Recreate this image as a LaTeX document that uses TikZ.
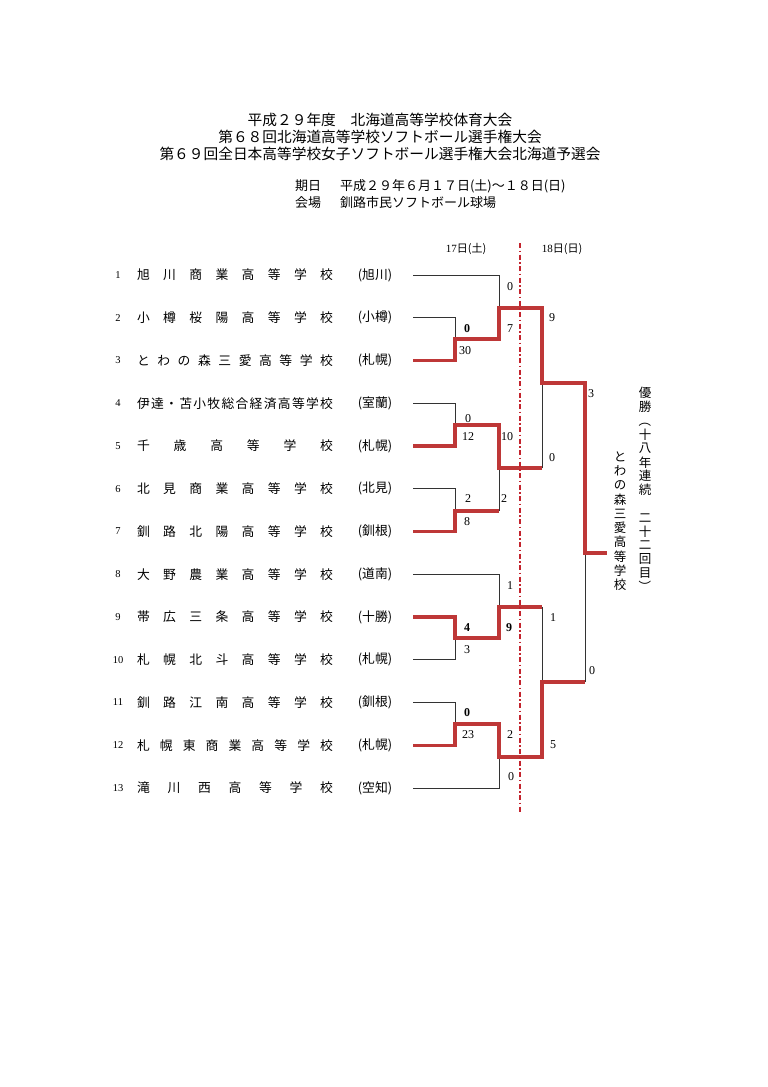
\documentclass[tikz,border=0pt]{standalone}
\usepackage{fontspec}
\setmainfont{Liberation Serif}
\newfontfamily\jp{Noto Sans CJK JP}
\definecolor{bred}{RGB}{190,55,55}
\definecolor{dred}{RGB}{195,35,45}
\newcommand\hf{\hfill}
\newcommand\team[3]{%
  \pgfmathsetmacro\tmY{275+(#1-1)*42.75}%
  \node[num] (num#1) at (118,\tmY) {#1};
  \node[tname] (name#1) at (137,\tmY) {\makebox[196pt][s]{#2}};
  \node[pref] (pref#1) at (375,\tmY) {(#3)};
  \coordinate (L#1) at (413,\tmY);
}
\begin{document}
\begin{tikzpicture}[x=1pt,y=-1pt,
  every node/.style={inner sep=0pt, outer sep=0pt},
  lose/.style={draw=black!80, line width=0.9pt},
  win/.style={draw=bred, line width=3.2pt},
  ttl/.style={font=\jp\fontsize{14.7}{15}\selectfont},
  info/.style={font=\jp\fontsize{13}{14}\selectfont, anchor=west},
  num/.style={font=\fontsize{10.5}{11}\selectfont},
  tname/.style={font=\jp\fontsize{12.8}{13}\selectfont, anchor=west},
  pref/.style={font=\jp\fontsize{12.8}{13}\selectfont},
  day/.style={font=\fontsize{11}{12}\selectfont},
  score/.style={font=\fontsize{12}{13}\selectfont},
  bscore/.style={font=\bfseries\fontsize{12}{13}\selectfont},
  vch/.style={font=\jp\fontsize{12.5}{13}\selectfont},
]
\useasboundingbox (0,0) rectangle (768,1087);

% titles
\node[ttl] (t1) at (380,120) {平成２９年度　北海道高等学校体育大会};
\node[ttl] (t2) at (380,137) {第６８回北海道高等学校ソフトボール選手権大会};
\node[ttl] (t3) at (380,154) {第６９回全日本高等学校女子ソフトボール選手権大会北海道予選会};
\node[info] (i1a) at (295,186) {期日};
\node[info] (i1b) at (340,186) {平成２９年６月１７日(土)～１８日(日)};
\node[info] (i2a) at (295,203) {会場};
\node[info] (i2b) at (340,203) {釧路市民ソフトボール球場};

% day headers
\node[day] (d17) at (466,249) {17{\jp 日(土)}};
\node[day] (d18) at (562,249) {18{\jp 日(日)}};

% teams
\team{1}{旭\hf 川\hf 商\hf 業\hf 高\hf 等\hf 学\hf 校}{旭川}
\team{2}{小\hf 樽\hf 桜\hf 陽\hf 高\hf 等\hf 学\hf 校}{小樽}
\team{3}{と\hf わ\hf の\hf 森\hf 三\hf 愛\hf 高\hf 等\hf 学\hf 校}{札幌}
\team{4}{伊\hf 達\hf ・\hf 苫\hf 小\hf 牧\hf 総\hf 合\hf 経\hf 済\hf 高\hf 等\hf 学\hf 校}{室蘭}
\team{5}{千\hf 歳\hf 高\hf 等\hf 学\hf 校}{札幌}
\team{6}{北\hf 見\hf 商\hf 業\hf 高\hf 等\hf 学\hf 校}{北見}
\team{7}{釧\hf 路\hf 北\hf 陽\hf 高\hf 等\hf 学\hf 校}{釧根}
\team{8}{大\hf 野\hf 農\hf 業\hf 高\hf 等\hf 学\hf 校}{道南}
\team{9}{帯\hf 広\hf 三\hf 条\hf 高\hf 等\hf 学\hf 校}{十勝}
\team{10}{札\hf 幌\hf 北\hf 斗\hf 高\hf 等\hf 学\hf 校}{札幌}
\team{11}{釧\hf 路\hf 江\hf 南\hf 高\hf 等\hf 学\hf 校}{釧根}
\team{12}{札\hf 幌\hf 東\hf 商\hf 業\hf 高\hf 等\hf 学\hf 校}{札幌}
\team{13}{滝\hf 川\hf 西\hf 高\hf 等\hf 学\hf 校}{空知}

% match points
\coordinate (mA) at (455,339);
\coordinate (mB) at (499,308);
\coordinate (mC) at (455,425);
\coordinate (mD) at (455,511);
\coordinate (mE) at (499,468);
\coordinate (mF) at (542,383);
\coordinate (mG) at (455,638);
\coordinate (mH) at (499,607);
\coordinate (mI) at (455,724);
\coordinate (mJ) at (499,757);
\coordinate (mK) at (542,682);
\coordinate (mZ) at (585,553);
\coordinate (W) at (607,553);

% losing lines
\draw[lose] (L1) -| (mB);
\draw[lose] (L2) -| (mA);
\draw[lose] (L4) -| (mC);
\draw[lose] (mE -| mF) -- (mF);
\draw[lose] (L6) -| (mD);
\draw[lose] (mD -| mE) -- (mE);
\draw[lose] (L8) -| (mH);
\draw[lose] (mH -| mK) -- (mK);
\draw[lose] (L10) -| (mG);
\draw[lose] (L11) -| (mI);
\draw[lose] (mK -| mZ) -- (mZ);
\draw[lose] (L13) -| (mJ);

% winning lines
\draw[win] (L3) -| (mA) -| (mB) -| (mF) -| (mZ) -- (W);
\draw[win] (L5) -| (mC) -| (mE) -- (mE -| mF);
\draw[win] (L7) -| (mD) -- (mD -| mE);
\draw[win] (L9) -| (mG) -| (mH) -- (mH -| mK);
\draw[win] (L12) -| (mI) -| (mJ) -| (mK) -- (mK -| mZ);

% day divider
\coordinate (dtop) at (520,243);
\coordinate (dbot) at (520,813);
\draw[dred, line width=1.8pt, dash pattern=on 5pt off 2.5pt on 1.5pt off 2.5pt] (dtop) -- (dbot);

% scores
\node[score]  (s1)  at (510,287) {0};
\node[bscore] (s2)  at (467,329) {0};
\node[score]  (s3)  at (510,329) {7};
\node[score]  (s4)  at (465,351) {30};
\node[score]  (s5)  at (552,318) {9};
\node[score]  (s6)  at (591,394) {3};
\node[score]  (s7)  at (468,419) {0};
\node[score]  (s8)  at (468,437) {12};
\node[score]  (s9)  at (507,437) {10};
\node[score]  (s10) at (552,458) {0};
\node[score]  (s11) at (468,499) {2};
\node[score]  (s12) at (504,499) {2};
\node[score]  (s13) at (467,522) {8};
\node[score]  (s14) at (510,586) {1};
\node[score]  (s15) at (553,618) {1};
\node[bscore] (s16) at (467,628) {4};
\node[bscore] (s17) at (509,628) {9};
\node[score]  (s18) at (467,650) {3};
\node[score]  (s19) at (592,671) {0};
\node[bscore] (s20) at (467,713) {0};
\node[score]  (s21) at (468,735) {23};
\node[score]  (s22) at (510,735) {2};
\node[score]  (s23) at (553,745) {5};
\node[score]  (s24) at (511,777) {0};

% champion (vertical text)
\foreach \c [count=\i] in {優,勝,,十,八,年,連,続,　,二,十,二,回,目,}
  \node[vch] (va\i) at (645,{393+(\i-1)*13.86}) {\c};
\node[vch, rotate=-90] (vpo) at (va3) {（};
\node[vch, rotate=-90] (vpc) at (va15) {）};
\foreach \c [count=\i] in {と,わ,の,森,三,愛,高,等,学,校}
  \node[vch] (vb\i) at (620,{457+(\i-1)*14.2}) {\c};
\end{tikzpicture}
\end{document}
